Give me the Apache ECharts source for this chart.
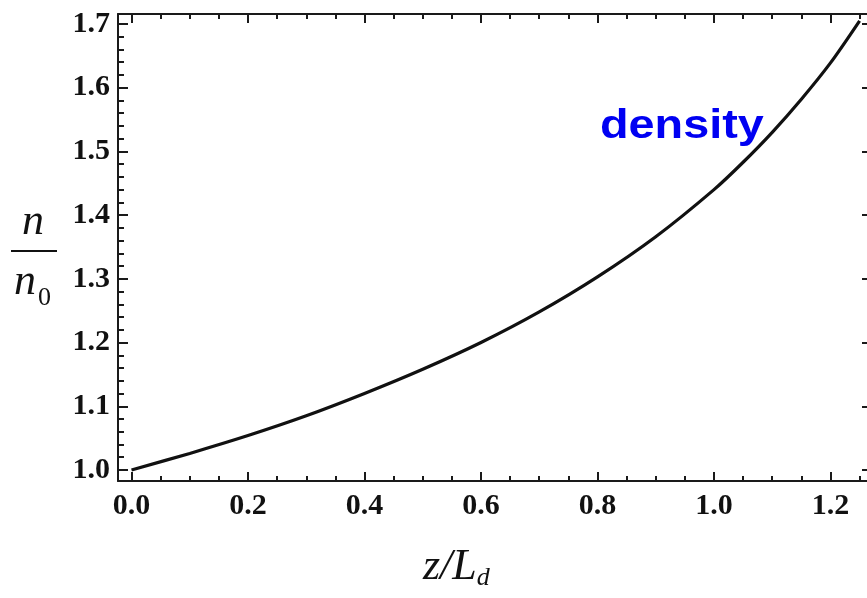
<!DOCTYPE html>
<html>
<head>
<meta charset="utf-8">
<script src="https://cdn.jsdelivr.net/npm/echarts@6/dist/echarts.min.js"></script>
<style>
  html, body { margin: 0; padding: 0; background: #fff; }
  #chart { width: 867px; height: 598px; }
</style>
</head>
<body>
<div id="chart"></div>
<script>
// Normalised distance z / L_d
const zValues = [0, 0.1, 0.2, 0.3, 0.4, 0.5, 0.6, 0.7, 0.8, 0.9, 1.0, 1.05, 1.1, 1.15, 1.2, 1.25];
// Normalised density n / n0
const densityValues = [1.000, 1.026, 1.054, 1.085, 1.120, 1.158, 1.200, 1.248, 1.303, 1.366, 1.440, 1.483, 1.530, 1.582, 1.639, 1.705];

// Tick positions
const xMajorTicks = [0, 0.2, 0.4, 0.6, 0.8, 1.0, 1.2];
const xMinorTicks = [0.05, 0.1, 0.15, 0.25, 0.3, 0.35, 0.45, 0.5, 0.55, 0.65, 0.7, 0.75, 0.85, 0.9, 0.95, 1.05, 1.1, 1.15, 1.25];
const yMajorTicks = [1.0, 1.1, 1.2, 1.3, 1.4, 1.5, 1.6, 1.7];
const yMinorTicks = [1.02, 1.04, 1.06, 1.08, 1.12, 1.14, 1.16, 1.18, 1.22, 1.24, 1.26, 1.28,
                     1.32, 1.34, 1.36, 1.38, 1.42, 1.44, 1.46, 1.48, 1.52, 1.54, 1.56, 1.58,
                     1.62, 1.64, 1.66, 1.68];

const X_MIN = -0.0232, X_MAX = 1.2627;
const Y_MIN = 0.9827, Y_MAX = 1.7157;

const frameColor = '#1a1a1a';
const tickFont = { fontFamily: 'Liberation Serif', fontWeight: 'bold', fontSize: 30, color: '#111' };

function xAxisDef(position, ticks, len, showLine, showLabels) {
  return {
    type: 'value', position: position, min: X_MIN, max: X_MAX,
    splitLine: { show: false },
    axisLine: { show: showLine, onZero: false, lineStyle: { color: frameColor, width: 2 } },
    axisTick: { show: true, inside: true, length: len, customValues: ticks,
                lineStyle: { color: frameColor, width: 2 } },
    axisLabel: showLabels
      ? Object.assign({ show: true, margin: 10, customValues: ticks,
                        formatter: v => v.toFixed(1) }, tickFont)
      : { show: false }
  };
}
function yAxisDef(position, ticks, len, showLine, showLabels) {
  return {
    type: 'value', position: position, min: Y_MIN, max: Y_MAX,
    splitLine: { show: false },
    axisLine: { show: showLine, onZero: false, lineStyle: { color: frameColor, width: 2 } },
    axisTick: { show: true, inside: true, length: len, customValues: ticks,
                lineStyle: { color: frameColor, width: 2 } },
    axisLabel: showLabels
      ? Object.assign({ show: true, margin: 8, customValues: ticks,
                        formatter: v => v.toFixed(1) }, tickFont)
      : { show: false }
  };
}

const chart = echarts.init(document.getElementById('chart'), null, { renderer: 'canvas' });

chart.setOption({
  animation: false,
  backgroundColor: '#fff',
  grid: { left: 118, right: 0, top: 14, bottom: 117, containLabel: false },
  xAxis: [
    xAxisDef('bottom', xMajorTicks, 9, true, true),
    xAxisDef('bottom', xMinorTicks, 5, false, false),
    xAxisDef('top', xMajorTicks, 9, true, false),
    xAxisDef('top', xMinorTicks, 5, false, false)
  ],
  yAxis: [
    yAxisDef('left', yMajorTicks, 10, true, true),
    yAxisDef('left', yMinorTicks, 6, false, false),
    yAxisDef('right', yMajorTicks, 5, false, false)
  ],
  series: [{
    type: 'line',
    xAxisIndex: 0,
    yAxisIndex: 0,
    data: zValues.map((z, i) => [z, densityValues[i]]),
    smooth: 0.3,
    showSymbol: false,
    lineStyle: { color: '#111', width: 3.2 }
  }],
  graphic: [
    // curve annotation
    { type: 'text', x: 600, y: 106, scaleX: 1.17, scaleY: 1.03,
      style: { text: 'density', fill: '#0000f2', x: 0, y: 0,
               font: 'bold 40px "Liberation Sans", Arial, sans-serif' } },
    // y-axis title: n / n0
    { type: 'text', left: 22, top: 200,
      style: { text: 'n', fill: '#111', font: 'italic 44px "Liberation Serif", serif' } },
    { type: 'line', shape: { x1: 11, y1: 251, x2: 57, y2: 251 },
      style: { stroke: '#111', lineWidth: 2 } },
    { type: 'text', left: 14, top: 260,
      style: { text: 'n', fill: '#111', font: 'italic 44px "Liberation Serif", serif' } },
    { type: 'text', left: 38, top: 285,
      style: { text: '0', fill: '#111', font: '26px "Liberation Serif", serif' } },
    // x-axis title: z / L_d
    { type: 'text', left: 423, top: 545,
      style: {
        text: '{i|z/L}{s|d}',
        rich: {
          i: { font: 'italic 44px "Liberation Serif", serif', fill: '#111' },
          s: { font: 'italic 26px "Liberation Serif", serif', fill: '#111', padding: [22, 0, 0, 0] }
        }
      } }
  ]
});
</script>
</body>
</html>
